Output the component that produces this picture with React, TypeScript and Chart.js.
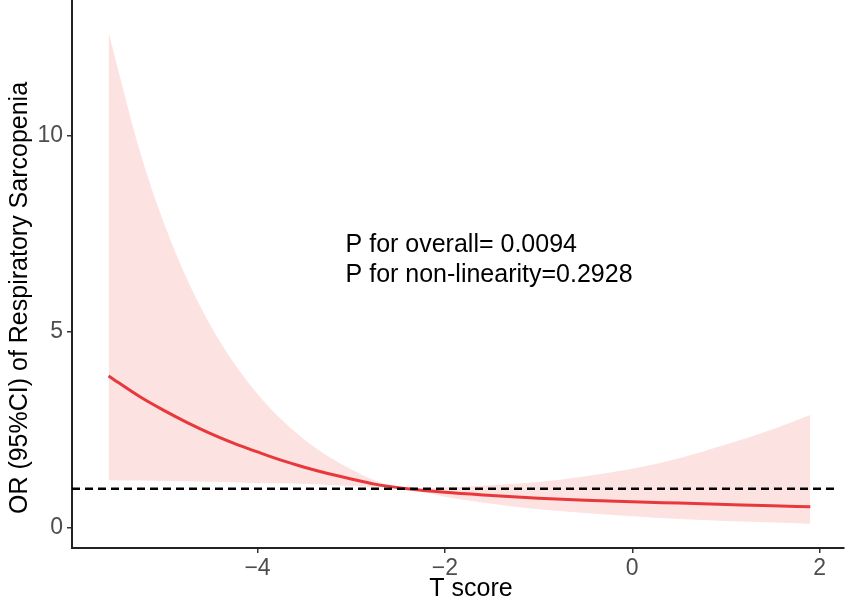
import { useEffect, useRef } from "react";
import { Chart, registerables } from "chart.js";

Chart.register(...registerables);

// T score grid of the fitted curve
const tScore = [
  -5.59, -5.25, -5.0, -4.75, -4.5, -4.25, -4.0, -3.75, -3.5, -3.25, -3.0,
  -2.75, -2.4, -2.0, -1.5, -1.0, -0.5, 0, 0.5, 1.0, 1.5, 1.9,
];
const orValue = [
  3.88, 3.34, 3.0, 2.69, 2.41, 2.16, 1.94, 1.73, 1.55, 1.39, 1.25, 1.12, 1.0,
  0.91, 0.83, 0.76, 0.71, 0.67, 0.635, 0.6, 0.565, 0.54,
];
const ciUpper = [
  12.65, 9.57, 7.79, 6.34, 5.16, 4.2, 3.42, 2.78, 2.26, 1.84, 1.5, 1.22, 1.0,
  1.036, 1.094, 1.174, 1.32, 1.51, 1.78, 2.13, 2.52, 2.88,
];
const ciLower = [
  1.22, 1.21, 1.2, 1.19, 1.18, 1.17, 1.15, 1.14, 1.12, 1.1, 1.07, 1.04, 1.0,
  0.8, 0.62, 0.48, 0.38, 0.3, 0.23, 0.18, 0.14, 0.11,
];

// OR = 1 reference line
const refT = [-5.98, 2.19];
const refOR = [1, 1];

const xTicks = [-4, -2, 0, 2];
const yTicks = [0, 5, 10];

const pOverall = "P for overall= 0.0094";
const pNonLinear = "P for non-linearity=0.2928";
const xTitle = "T score";
const yTitle = "OR (95%CI) of Respiratory Sarcopenia";

const FONT = "'Liberation Sans', Arial, Helvetica, sans-serif";

const toPoints = (xs: number[], ys: number[]) =>
  xs.map((x, i) => ({ x, y: ys[i] }));

const fmtTick = (v: number) => (v < 0 ? "\u2212" + Math.abs(v) : String(v));

const textPlugin = {
  id: "rcsText",
  afterDraw(chart: any) {
    const { ctx, scales } = chart;
    ctx.save();
    ctx.fillStyle = "#000";

    // p-values
    ctx.font = `25px ${FONT}`;
    ctx.textAlign = "left";
    ctx.textBaseline = "alphabetic";
    const ax = scales.x.getPixelForValue(-3.06);
    ctx.fillText(pOverall, ax, scales.y.getPixelForValue(7.04));
    ctx.fillText(pNonLinear, ax, scales.y.getPixelForValue(6.28));

    // x title
    ctx.textAlign = "center";
    ctx.fillText(xTitle, 471, 596);

    // y title
    ctx.translate(26.5, 298);
    ctx.rotate(-Math.PI / 2);
    ctx.fillText(yTitle, 0, 0);
    ctx.restore();
  },
};

const noPad = (s: any) => {
  s.paddingTop = 0;
  s.paddingBottom = 0;
  s.paddingLeft = 0;
  s.paddingRight = 0;
};

export default function App() {
  const canvasRef = useRef<HTMLCanvasElement>(null);
  const chartRef = useRef<Chart | null>(null);

  useEffect(() => {
    document.body.style.margin = "0";
    if (!canvasRef.current) return;
    const ctx = canvasRef.current.getContext("2d");
    if (!ctx) return;

    if (chartRef.current) chartRef.current.destroy();

    chartRef.current = new Chart(ctx, {
      type: "line",
      data: {
        datasets: [
          {
            label: "upper",
            data: toPoints(tScore, ciUpper),
            borderWidth: 0,
            borderColor: "rgba(0,0,0,0)",
            backgroundColor: "rgb(253,226,226)",
            fill: "+1",
            pointRadius: 0,
            cubicInterpolationMode: "monotone",
            order: 3,
          },
          {
            label: "lower",
            data: toPoints(tScore, ciLower),
            borderWidth: 0,
            borderColor: "rgba(0,0,0,0)",
            fill: false,
            pointRadius: 0,
            cubicInterpolationMode: "monotone",
            order: 3,
          },
          {
            label: "OR",
            data: toPoints(tScore, orValue),
            borderColor: "#e8383c",
            borderWidth: 3,
            fill: false,
            pointRadius: 0,
            cubicInterpolationMode: "monotone",
            order: 2,
          },
          {
            label: "ref",
            data: toPoints(refT, refOR),
            borderColor: "#000",
            borderWidth: 2.5,
            borderDash: [8, 5],
            fill: false,
            pointRadius: 0,
            order: 1,
          },
        ],
      },
      options: {
        responsive: false,
        animation: false,
        events: [],
        layout: { padding: { left: 0, right: 7, top: 0, bottom: 0 } },
        plugins: {
          legend: { display: false },
          tooltip: { enabled: false },
        },
        scales: {
          x: {
            type: "linear",
            min: -5.98,
            max: 2.26,
            afterFit: (s: any) => {
              s.height = 54;
              noPad(s);
            },
            afterBuildTicks: (s: any) => {
              s.ticks = xTicks.map((value) => ({ value }));
            },
            grid: {
              drawOnChartArea: false,
              drawTicks: true,
              tickLength: 5,
              color: "#333",
              lineWidth: 1.5,
            },
            border: { display: true, color: "#222", width: 2 },
            ticks: {
              color: "#4d4d4d",
              padding: 2,
              maxRotation: 0,
              font: { family: FONT, size: 23 },
              callback: (v: any) => fmtTick(Number(v)),
            },
          },
          y: {
            type: "linear",
            min: -0.51,
            max: 13.47,
            afterFit: (s: any) => {
              s.width = 72;
              noPad(s);
            },
            afterBuildTicks: (s: any) => {
              s.ticks = yTicks.map((value) => ({ value }));
            },
            grid: {
              drawOnChartArea: false,
              drawTicks: true,
              tickLength: 5,
              color: "#333",
              lineWidth: 1.5,
            },
            border: { display: true, color: "#222", width: 2 },
            ticks: {
              color: "#4d4d4d",
              padding: 4,
              font: { family: FONT, size: 23 },
              callback: (v: any) => fmtTick(Number(v)),
            },
          },
        },
      },
      plugins: [textPlugin],
    });

    return () => {
      if (chartRef.current) {
        chartRef.current.destroy();
        chartRef.current = null;
      }
    };
  }, []);

  return (
    <div style={{ width: 851, height: 602, background: "#fff" }}>
      <canvas
        ref={canvasRef}
        width={851}
        height={602}
        style={{ width: 851, height: 602, display: "block" }}
        role="img"
        aria-label="Restricted cubic spline of OR for respiratory sarcopenia by T score"
      />
    </div>
  );
}
